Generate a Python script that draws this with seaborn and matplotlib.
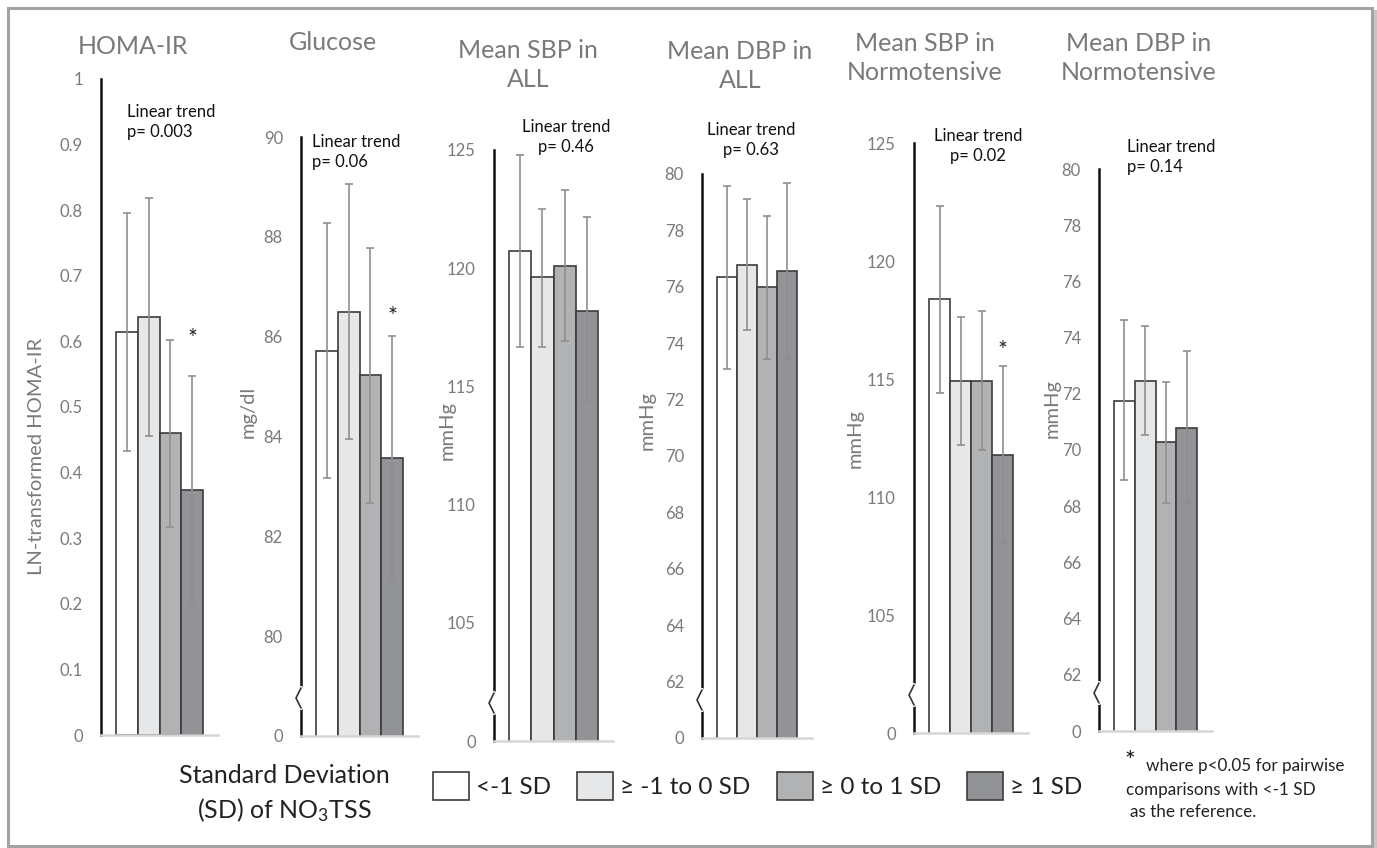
import pandas as pd
import matplotlib
matplotlib.use('Agg')
import matplotlib.pyplot as plt
import seaborn as sns
from matplotlib.patches import Patch, Rectangle

# groups of NO3TSS (standard deviation bands)
groups = ['<-1 SD', '≥ -1 to 0 SD', '≥ 0 to 1 SD', '≥ 1 SD']
colors = ['#ffffff', '#e6e7e8', '#b1b2b4', '#929396']

titles = ['HOMA-IR', 'Glucose', 'Mean SBP in\nALL', 'Mean DBP in\nALL',
          'Mean SBP in\nNormotensive', 'Mean DBP in\nNormotensive']
ylabels = ['LN-transformed HOMA-IR', 'mg/dl', 'mmHg', 'mmHg', 'mmHg', 'mmHg']
trend_p = ['p= 0.003', 'p= 0.06', 'p= 0.46', 'p= 0.63', 'p= 0.02', 'p= 0.14']

homa_mean = [0.614, 0.637, 0.460, 0.373]
homa_low = [0.433, 0.456, 0.317, 0.198]
homa_high = [0.796, 0.818, 0.602, 0.547]

glucose_mean = [85.72, 86.50, 85.23, 83.56]
glucose_low = [83.16, 83.94, 82.67, 81.10]
glucose_high = [88.27, 89.05, 87.78, 86.01]

sbp_all_mean = [120.74, 119.61, 120.11, 118.20]
sbp_all_low = [116.66, 116.66, 116.91, 114.32]
sbp_all_high = [124.78, 122.52, 123.30, 122.17]

dbp_all_mean = [76.34, 76.79, 75.99, 76.55]
dbp_all_low = [73.10, 74.48, 73.43, 73.43]
dbp_all_high = [79.56, 79.12, 78.50, 79.67]

sbp_norm_mean = [118.39, 114.90, 114.93, 111.78]
sbp_norm_low = [114.41, 112.20, 111.98, 108.04]
sbp_norm_high = [122.35, 117.62, 117.90, 115.56]

dbp_norm_mean = [71.74, 72.47, 70.28, 70.80]
dbp_norm_low = [68.92, 70.52, 68.12, 68.10]
dbp_norm_high = [74.63, 74.42, 72.41, 73.53]

# y axes (bottom tick is shown as "0" because of the broken axis)
homa_ticks = [0, 0.1, 0.2, 0.3, 0.4, 0.5, 0.6, 0.7, 0.8, 0.9, 1]
homa_labels = ['0', '0.1', '0.2', '0.3', '0.4', '0.5', '0.6', '0.7', '0.8', '0.9', '1']
glucose_ticks = [78, 80, 82, 84, 86, 88, 90]
glucose_labels = ['0', '80', '82', '84', '86', '88', '90']
sbp_ticks = [100, 105, 110, 115, 120, 125]
sbp_labels = ['0', '105', '110', '115', '120', '125']
dbp_ticks = [60, 62, 64, 66, 68, 70, 72, 74, 76, 78, 80]
dbp_labels = ['0', '62', '64', '66', '68', '70', '72', '74', '76', '78', '80']

# asterisk (p<0.05 vs reference) on the last group
star_y = [0.605, 86.40, None, None, 116.20, None]

means = [homa_mean, glucose_mean, sbp_all_mean, dbp_all_mean, sbp_norm_mean, dbp_norm_mean]
lows = [homa_low, glucose_low, sbp_all_low, dbp_all_low, sbp_norm_low, dbp_norm_low]
highs = [homa_high, glucose_high, sbp_all_high, dbp_all_high, sbp_norm_high, dbp_norm_high]
ticks = [homa_ticks, glucose_ticks, sbp_ticks, dbp_ticks, sbp_ticks, dbp_ticks]
tick_labels = [homa_labels, glucose_labels, sbp_labels, dbp_labels, sbp_labels, dbp_labels]

W, H = 1377, 848
# axes boxes in pixels: left, top, right, bottom
boxes = [(101, 79, 218, 735), (301, 137, 418, 736), (494, 150, 613, 741),
         (702, 174, 812, 738), (914, 143, 1028, 733), (1099, 169, 1212, 731)]
title_pos = [(133, 46), (333, 43), (528, 65), (740, 66), (925, 58), (1139, 58)]
ylabel_pos = [(37, 456), (248, 412), (447, 430), (647, 421), (855, 438), (1052, 409)]
trend_pos = [(127, 122, 'left'), (312, 152, 'left'), (566, 137, 'center'),
             (751, 140, 'center'), (978, 146, 'center'), (1127, 157, 'left')]

sns.set_style('white')
plt.rcParams['font.family'] = ['Lato', 'DejaVu Sans']
plt.rcParams['mathtext.fontset'] = 'custom'
plt.rcParams['mathtext.rm'] = 'Lato'
plt.rcParams['mathtext.it'] = 'Lato'

gray_txt = '#7a7a7a'
fig = plt.figure(figsize=(W / 100, H / 100), dpi=100)

for i in range(6):
    l, t, r, b = boxes[i]
    ax = fig.add_axes([l / W, 1 - b / H, (r - l) / W, (b - t) / H])
    df = pd.DataFrame({'panel': ['x'] * 4, 'group': groups, 'value': means[i]})
    wfrac = (r - l - 30) / (r - l)
    sns.barplot(data=df, x='panel', y='value', hue='group', hue_order=groups,
                palette=colors, width=wfrac, edgecolor='#3c3c3c', linewidth=1.2,
                saturation=1, legend=False, errorbar=None, ax=ax)
    ax.set_xlim(-0.5, 0.5)
    ax.set_ylim(ticks[i][0], ticks[i][-1])
    ax.set_yticks(ticks[i])
    ax.set_yticklabels(tick_labels[i])
    ax.set_xticks([])
    ax.set_xlabel('')
    ax.set_ylabel('')
    ax.tick_params(axis='y', length=0, pad=13, labelsize=12, labelcolor=gray_txt)
    for s in ['top', 'right']:
        ax.spines[s].set_visible(False)
    ax.spines['left'].set_color('#111111')
    ax.spines['left'].set_linewidth(1.8)
    ax.spines['bottom'].set_color('#d6d6d6')
    ax.spines['bottom'].set_linewidth(1.8)

    xs = [p.get_x() + p.get_width() / 2 for p in ax.patches[:4]]
    m = means[i]
    yerr = [[m[k] - lows[i][k] for k in range(4)], [highs[i][k] - m[k] for k in range(4)]]
    ax.errorbar(xs, m, yerr=yerr, fmt='none', ecolor='#8f8f8f', elinewidth=1.2,
                capsize=3, capthick=1.2, zorder=4)
    if star_y[i] is not None:
        ax.text(xs[3], star_y[i], '*', ha='center', va='center', fontsize=17, color='#222222')

    # axis break marker
    if i > 0:
        wpx, hpx = r - l, b - t
        y_lo, y_hi = 28 / hpx, 48 / hpx
        ax.plot([0, 0], [y_lo, y_hi], color='white', lw=3, transform=ax.transAxes,
                clip_on=False, zorder=6)
        ax.plot([0, -5 / wpx, 0], [y_hi, (y_lo + y_hi) / 2, y_lo], color='#333333',
                lw=1.2, transform=ax.transAxes, clip_on=False, zorder=7)

    fig.text(title_pos[i][0] / W, 1 - title_pos[i][1] / H, titles[i], ha='center',
             va='center', fontsize=18, color=gray_txt, linespacing=1.3)
    fig.text(ylabel_pos[i][0] / W, 1 - ylabel_pos[i][1] / H, ylabels[i], rotation=90,
             ha='center', va='center', fontsize=14.5, color=gray_txt)
    tx, ty, ha = trend_pos[i]
    fig.text(tx / W, 1 - ty / H, 'Linear trend\n' + trend_p[i], ha=ha, va='center',
             fontsize=12, color='#111111', linespacing=1.3,
             multialignment='center' if ha == 'center' else 'left')

# legend
handles = [Patch(facecolor=c, edgecolor='#3c3c3c', linewidth=1.2) for c in colors]
fig.legend(handles, groups, loc='center left', bbox_to_anchor=(411 / W, 1 - 786 / H),
           ncol=4, frameon=False, fontsize=17.5, handlelength=1.48, handleheight=1.44,
           handletextpad=0.3, columnspacing=1.07, labelcolor='#222222')
fig.text(284 / W, 1 - 794 / H, 'Standard Deviation\n(SD) of NO$_3$TSS', ha='center',
         va='center', fontsize=18, color='#222222', linespacing=1.4)

fig.text(1130 / W, 1 - 762 / H, '*', ha='center', va='center', fontsize=18, color='#111111')
fig.text(1146 / W, 1 - 766 / H, 'where p<0.05 for pairwise', ha='left', va='center',
         fontsize=12.3, color='#222222')
fig.text(1126 / W, 1 - 790 / H, 'comparisons with <-1 SD', ha='left', va='center',
         fontsize=12.3, color='#222222')
fig.text(1130 / W, 1 - 812 / H, 'as the reference.', ha='left', va='center',
         fontsize=12.3, color='#222222')

# outer frame with shadow
fig.patches.append(Rectangle((1373 / W, 0), 4 / W, 1 - 10 / H, transform=fig.transFigure,
                             facecolor='#c6c6c6', edgecolor='none'))
fig.patches.append(Rectangle((8 / W, 1 - 846 / H), 1364 / W, 838 / H, transform=fig.transFigure,
                             fill=False, edgecolor='#a3a3a3', linewidth=2.2))

fig.savefig('out.png', dpi=100)
